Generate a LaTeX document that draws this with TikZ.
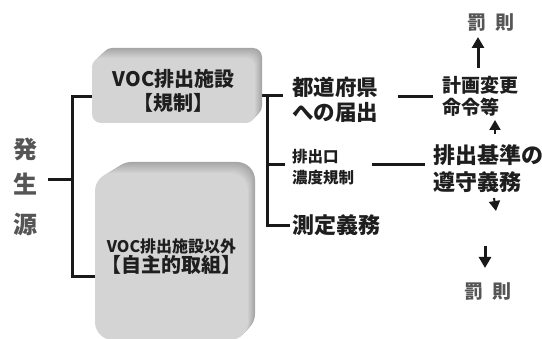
\documentclass[tikz,border=0pt]{standalone}
\usepackage{fontspec}
\newfontfamily\jp{Noto Sans CJK JP}
\usetikzlibrary{arrows.meta}
\definecolor{txt}{HTML}{1E1E1E}
\definecolor{graytxt}{HTML}{555555}
\definecolor{front}{HTML}{D4D4D4}
\tikzset{
  lbl/.style={inner sep=0pt, text=txt, font=\jp\bfseries, align=left},
  glbl/.style={inner sep=0pt, text=graytxt, font=\jp\bfseries},
  conn/.style={line width=3pt, black!90},
  arr/.style={line width=3pt, black!90, -{Triangle[width=12pt,length=11pt]}},
  tip/.style={line width=2pt, black!90, -{Triangle[width=11pt,length=10pt]}},
  frontbox/.style={draw=none, fill=front, rounded corners=#1, inner sep=0pt, text=txt, font=\jp\bfseries, align=center}
}
\begin{document}
\begin{tikzpicture}[x=1pt,y=-1pt]
\useasboundingbox (0,0) rectangle (542,339);
% source label
\node[glbl, font=\jp\bfseries\fontsize{24}{24}\selectfont] (src1) at (25,149) {発};
\node[glbl, font=\jp\bfseries\fontsize{24}{24}\selectfont] (src2) at (25,184) {生};
\node[glbl, font=\jp\bfseries\fontsize{24}{24}\selectfont] (src3) at (25,224) {源};
% left bracket
\coordinate (lb) at (72,180);
\draw[conn] (48,180) -- (lb);
\draw[conn] (100,97) -- (72,97) -- (72,277) -- (100,277);
% right bracket
\coordinate (rbTop) at (267,96);
\draw[conn] (250,96) -- (283,96);
\draw[conn] (rbTop) -- (267,226) -- (290,226);
\draw[conn] (267,165) -- (285,165);
% box 1 extrusion
\foreach \t in {0,0.1,...,1.0}{
  \pgfmathsetmacro{\c}{35-18*\t}
  \fill[black!\c!white, rounded corners=9pt] ({103-11*\t},{48+10*\t}) rectangle ({262-7*\t},{115+8*\t});
}
\node[frontbox=9pt, minimum width=163pt, minimum height=65pt,
      font=\jp\bfseries\fontsize{20}{24}\selectfont] (box1) at (173.5,90.5)
      {\raisebox{0pt}{VOC排出施設}\\【規制】};
% box 2 extrusion
\foreach \t in {0,0.1,...,1.0}{
  \pgfmathsetmacro{\c}{35-18*\t}
  \fill[black!\c!white, rounded corners=18pt] ({113-18*\t},{162+11*\t}) rectangle ({255-7*\t},{332+8*\t});
}
\node[frontbox=18pt, minimum width=153pt, minimum height=167pt] (box2) at (171.5,256.5)
      {{\fontsize{16}{21}\selectfont VOC排出施設以外}\\{\fontsize{20}{22}\selectfont 【自主的取組】}};
% right texts
\node[lbl, anchor=west, font=\jp\bfseries\fontsize{21.5}{25}\selectfont] (todo) at (292,99.5) {都道府県\\への届出};
\node[lbl, anchor=west, font=\jp\bfseries\fontsize{15.5}{21}\selectfont] (haishutsu) at (292,167.5) {排出口\\濃度規制};
\node[lbl, anchor=west, font=\jp\bfseries\fontsize{22}{22}\selectfont] (sokutei) at (292,225) {測定義務};
\node[lbl, anchor=west, font=\jp\bfseries\fontsize{19}{22}\selectfont] (keikaku) at (442,96) {計画変更\\命令等};
\node[lbl, anchor=west, font=\jp\bfseries\fontsize{22}{27}\selectfont] (kijun) at (433,169) {排出基準の\\遵守義務};
\node[glbl, font=\jp\bfseries\fontsize{19}{19}\selectfont] (bassoku1) at (491,23) {罰\hspace{0.5em}則};
\node[glbl, font=\jp\bfseries\fontsize{19}{19}\selectfont] (bassoku2) at (488,292) {罰\hspace{0.5em}則};
% connectors
\draw[conn] (398,97) -- (433,97);
\draw[conn] (372,165) -- (425,165);
\draw[arr] (478,68) -- (478,37);
\draw[tip] (495,134) -- (495,120);
\draw[tip] (494,198) -- (496,211);
\draw[arr] (485,246) -- (485,268);
\end{tikzpicture}
\end{document}
